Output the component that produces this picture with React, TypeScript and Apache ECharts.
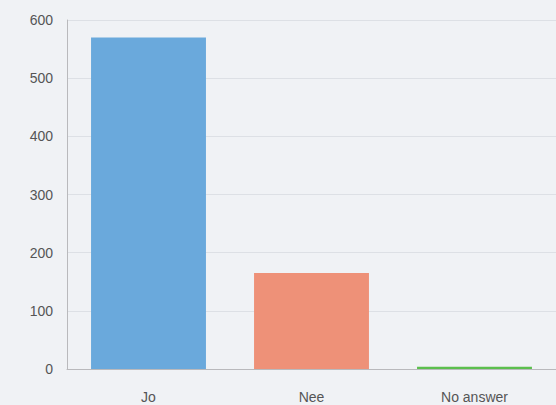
import React, { useEffect, useRef } from "react";
import * as echarts from "echarts";

const categories = ["Jo", "Nee", "No answer"];
const values = [570, 165, 4];
const barColors = ["#6aa9dc", "#ee9178", "#5cbf4e"];
const yTicks = [0, 100, 200, 300, 400, 500, 600];

export default function App() {
  const ref = useRef<HTMLDivElement>(null);
  useEffect(() => {
    const chart = echarts.init(ref.current!, null, { renderer: "svg" });
    chart.setOption({
      animation: false,
      backgroundColor: "#f0f2f5",
      grid: { left: 67, right: -9, top: 20, bottom: 36 },
      xAxis: {
        type: "category",
        data: categories,
        axisLine: { show: true, lineStyle: { color: "#b9b9bc", width: 1 } },
        axisTick: { show: false },
        axisLabel: {
          color: "#555",
          fontSize: 14,
          fontFamily: "Liberation Sans, Arial, sans-serif",
          margin: 21,
        },
        splitLine: { show: false },
      },
      yAxis: {
        type: "value",
        min: yTicks[0],
        max: yTicks[yTicks.length - 1],
        interval: 100,
        axisLine: { show: true, lineStyle: { color: "#b9b9bc", width: 1 } },
        axisTick: { show: false },
        axisLabel: {
          color: "#555",
          fontSize: 14,
          fontFamily: "Liberation Sans, Arial, sans-serif",
          margin: 14,
        },
        splitLine: { show: true, lineStyle: { color: "#dde0e5", width: 1 } },
      },
      series: [
        {
          type: "bar",
          data: values.map((v, i) => ({ value: v, itemStyle: { color: barColors[i] } })),
          barCategoryGap: "29.5%",
        },
      ],
    });
    return () => chart.dispose();
  }, []);
  return (
    <div
      ref={ref}
      style={{ position: "absolute", left: 0, top: 0, width: 556, height: 405 }}
    />
  );
}
